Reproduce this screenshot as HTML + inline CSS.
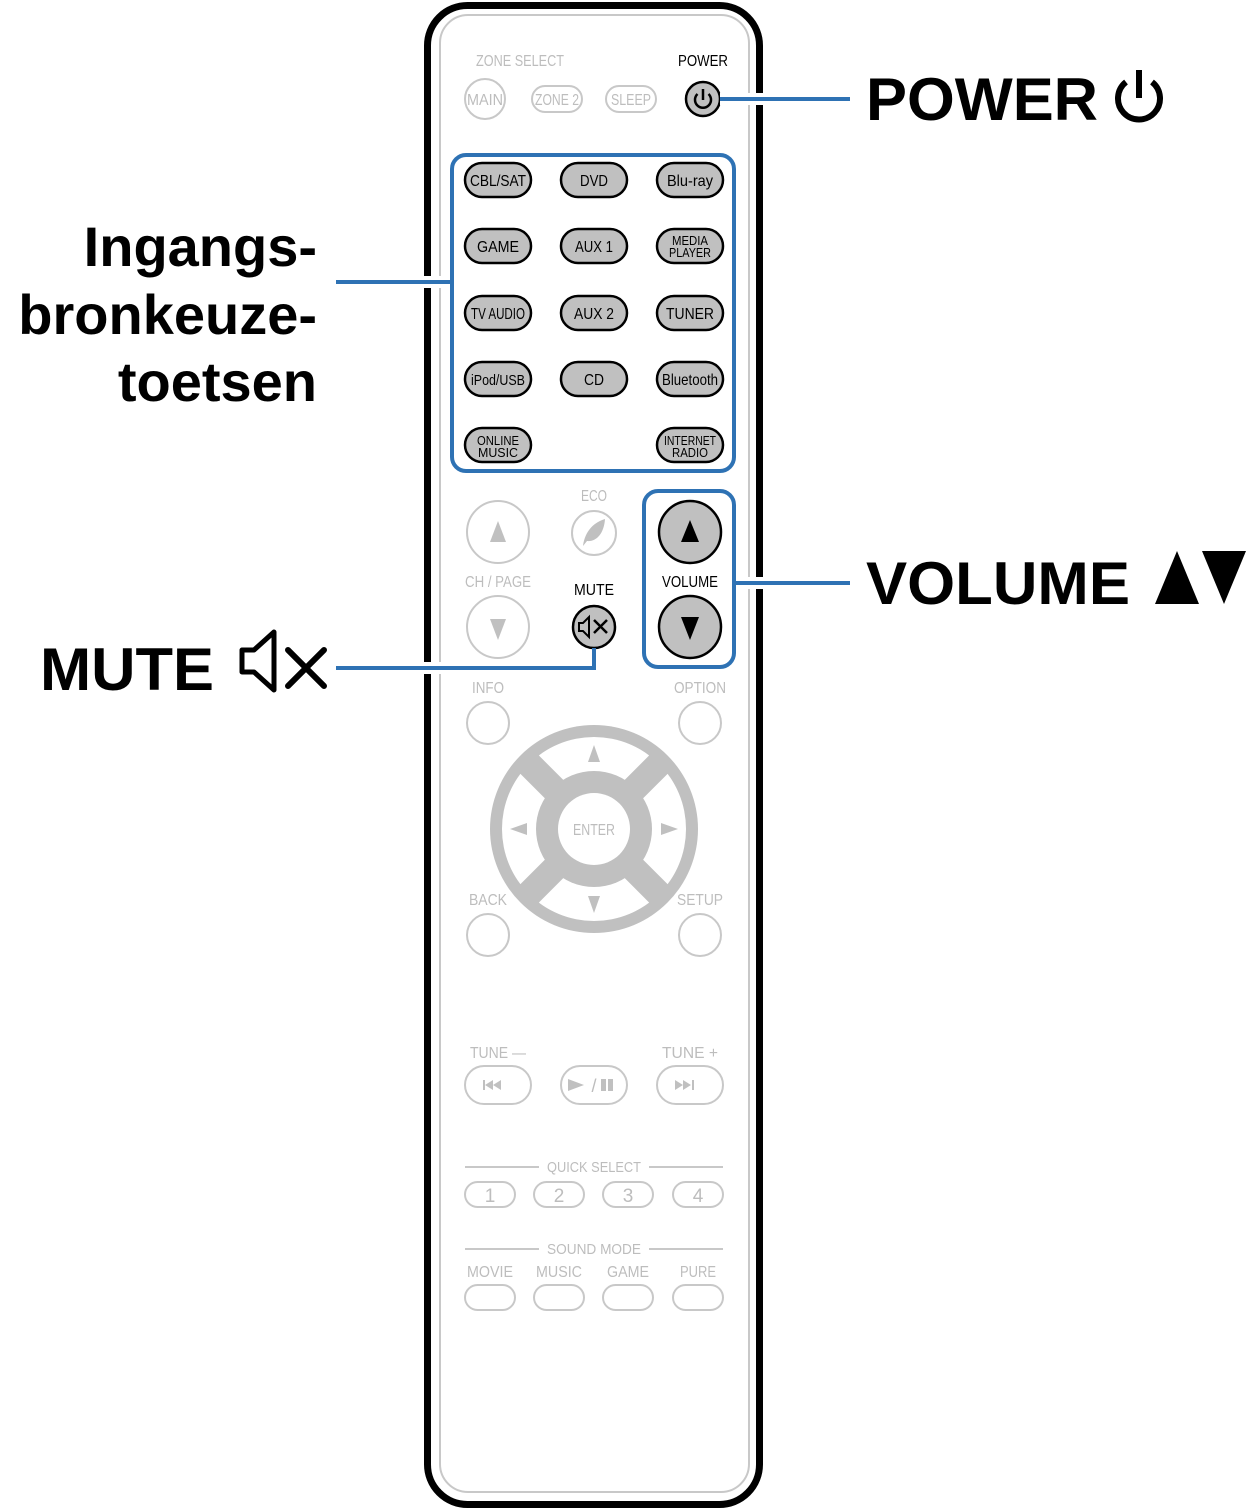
<!DOCTYPE html>
<html><head><meta charset="utf-8"><style>
html,body{margin:0;padding:0;background:#fff;}
svg{display:block;}
.g{font-family:"Liberation Sans",sans-serif;fill:#bdbdbd;text-anchor:middle;}
.b{font-family:"Liberation Sans",sans-serif;fill:#000;text-anchor:middle;}
.big{font-family:"Liberation Sans",sans-serif;font-weight:bold;fill:#000;}
</style></head><body>
<svg width="1248" height="1510" viewBox="0 0 1248 1510" xmlns="http://www.w3.org/2000/svg">
<rect x="427.5" y="5.5" width="332" height="1499" rx="40" fill="#fff" stroke="#000" stroke-width="7"/>
<rect x="440" y="15" width="309" height="1477" rx="28" fill="none" stroke="#c8c8c8" stroke-width="2"/>

<text class="g" x="520" y="66" font-size="16" textLength="88" lengthAdjust="spacingAndGlyphs">ZONE SELECT</text>
<text class="b" x="703" y="66" font-size="16" textLength="50" lengthAdjust="spacingAndGlyphs">POWER</text>
<circle cx="485" cy="99" r="20" fill="none" stroke="#c8c8c8" stroke-width="2"/>
<text class="g" x="485" y="105" font-size="16" textLength="36" lengthAdjust="spacingAndGlyphs">MAIN</text>
<rect x="532" y="86" width="50" height="26" rx="13" fill="none" stroke="#c8c8c8" stroke-width="2"/>
<text class="g" x="557" y="105" font-size="16" textLength="44" lengthAdjust="spacingAndGlyphs">ZONE 2</text>
<rect x="606" y="86" width="50" height="26" rx="13" fill="none" stroke="#c8c8c8" stroke-width="2"/>
<text class="g" x="631" y="105" font-size="16" textLength="40" lengthAdjust="spacingAndGlyphs">SLEEP</text>
<circle cx="703" cy="99" r="17" fill="#c0c0c0" stroke="#000" stroke-width="2.5"/>
<path d="M697.5 94 A8 8 0 1 0 708.5 94" fill="none" stroke="#000" stroke-width="2.5"/>
<line x1="703" y1="89" x2="703" y2="100" stroke="#000" stroke-width="2.5"/>

<g font-size="16">
<g fill="#c0c0c0" stroke="#000" stroke-width="2.5">
<rect x="465" y="163" width="66" height="34" rx="17"/><rect x="561" y="163" width="66" height="34" rx="17"/><rect x="657" y="163" width="66" height="34" rx="17"/>
<rect x="465" y="229" width="66" height="34" rx="17"/><rect x="561" y="229" width="66" height="34" rx="17"/><rect x="657" y="229" width="66" height="34" rx="17"/>
<rect x="465" y="296" width="66" height="34" rx="17"/><rect x="561" y="296" width="66" height="34" rx="17"/><rect x="657" y="296" width="66" height="34" rx="17"/>
<rect x="465" y="362" width="66" height="34" rx="17"/><rect x="561" y="362" width="66" height="34" rx="17"/><rect x="657" y="362" width="66" height="34" rx="17"/>
<rect x="465" y="428" width="66" height="34" rx="17"/><rect x="657" y="428" width="66" height="34" rx="17"/>
</g>
<text class="b" x="498" y="186" textLength="56" lengthAdjust="spacingAndGlyphs">CBL/SAT</text><text class="b" x="594" y="186" textLength="28" lengthAdjust="spacingAndGlyphs">DVD</text><text class="b" x="690" y="186" textLength="46" lengthAdjust="spacingAndGlyphs">Blu-ray</text>
<text class="b" x="498" y="252" textLength="42" lengthAdjust="spacingAndGlyphs">GAME</text><text class="b" x="594" y="252" textLength="38" lengthAdjust="spacingAndGlyphs">AUX 1</text>
<text class="b" x="690" y="245" font-size="13" textLength="36" lengthAdjust="spacingAndGlyphs">MEDIA</text><text class="b" x="690" y="257" font-size="13" textLength="42" lengthAdjust="spacingAndGlyphs">PLAYER</text>
<text class="b" x="498" y="319" textLength="54" lengthAdjust="spacingAndGlyphs">TV AUDIO</text><text class="b" x="594" y="319" textLength="40" lengthAdjust="spacingAndGlyphs">AUX 2</text><text class="b" x="690" y="319" textLength="48" lengthAdjust="spacingAndGlyphs">TUNER</text>
<text class="b" x="498" y="385" font-size="15" textLength="54" lengthAdjust="spacingAndGlyphs">iPod/USB</text><text class="b" x="594" y="385" textLength="20" lengthAdjust="spacingAndGlyphs">CD</text><text class="b" x="690" y="385" textLength="56" lengthAdjust="spacingAndGlyphs">Bluetooth</text>
<text class="b" x="498" y="445" font-size="13" textLength="42" lengthAdjust="spacingAndGlyphs">ONLINE</text><text class="b" x="498" y="457" font-size="13" textLength="40" lengthAdjust="spacingAndGlyphs">MUSIC</text>
<text class="b" x="690" y="445" font-size="13" textLength="52" lengthAdjust="spacingAndGlyphs">INTERNET</text><text class="b" x="690" y="457" font-size="13" textLength="36" lengthAdjust="spacingAndGlyphs">RADIO</text>
</g>

<circle cx="498" cy="532" r="31" fill="none" stroke="#c8c8c8" stroke-width="2"/>
<path d="M498 521 L506 542 L490 542Z" fill="#c0c0c0"/>
<text class="g" x="498" y="587" font-size="16" textLength="66" lengthAdjust="spacingAndGlyphs">CH / PAGE</text>
<circle cx="498" cy="627" r="31" fill="none" stroke="#c8c8c8" stroke-width="2"/>
<path d="M498 640 L506 619 L490 619Z" fill="#c0c0c0"/>
<text class="g" x="594" y="501" font-size="16" textLength="26" lengthAdjust="spacingAndGlyphs">ECO</text>
<circle cx="594" cy="533" r="22" fill="none" stroke="#c8c8c8" stroke-width="2"/>
<path d="M583 546 C585 530 595 522 605 519 C604 534 596 542 587 541Z" fill="#c0c0c0"/>
<text class="b" x="594" y="595" font-size="16" textLength="40" lengthAdjust="spacingAndGlyphs">MUTE</text>
<circle cx="594" cy="627" r="21" fill="#c0c0c0" stroke="#000" stroke-width="2.5"/>
<path d="M579 623 h4 l6 -6 v20 l-6 -6 h-4z" fill="none" stroke="#000" stroke-width="2"/>
<path d="M594 620 l13 13 M607 620 l-13 13" stroke="#000" stroke-width="2.5"/>

<circle cx="690" cy="532" r="31" fill="#c0c0c0" stroke="#000" stroke-width="2.5"/>
<path d="M690 520 L699 542 L681 542Z" fill="#000"/>
<text class="b" x="690" y="587" font-size="16" textLength="56" lengthAdjust="spacingAndGlyphs">VOLUME</text>
<circle cx="690" cy="627" r="31" fill="#c0c0c0" stroke="#000" stroke-width="2.5"/>
<path d="M690 640 L699 617 L681 617Z" fill="#000"/>

<text class="g" x="488" y="693" font-size="16" textLength="32" lengthAdjust="spacingAndGlyphs">INFO</text>
<circle cx="488" cy="723" r="21" fill="none" stroke="#c8c8c8" stroke-width="2"/>
<text class="g" x="700" y="693" font-size="16" textLength="52" lengthAdjust="spacingAndGlyphs">OPTION</text>
<circle cx="700" cy="723" r="21" fill="none" stroke="#c8c8c8" stroke-width="2"/>

<circle cx="594" cy="829" r="104" fill="#c0c0c0"/>
<circle cx="594" cy="829" r="92" fill="#fff"/>
<g stroke="#c0c0c0" stroke-width="26">
<line x1="528" y1="763" x2="660" y2="895"/><line x1="660" y1="763" x2="528" y2="895"/>
</g>
<circle cx="594" cy="829" r="58" fill="#c0c0c0"/>
<circle cx="594" cy="829" r="36" fill="#fff"/>
<text class="g" x="594" y="835" font-size="16" textLength="42" lengthAdjust="spacingAndGlyphs">ENTER</text>
<g fill="#c0c0c0">
<path d="M594 745 L600 762 L588 762Z"/><path d="M594 913 L600 896 L588 896Z"/>
<path d="M510 829 L527 823 L527 835Z"/><path d="M678 829 L661 823 L661 835Z"/>
</g>
<text class="g" x="488" y="905" font-size="16" textLength="38" lengthAdjust="spacingAndGlyphs">BACK</text>
<circle cx="488" cy="935" r="21" fill="none" stroke="#c8c8c8" stroke-width="2"/>
<text class="g" x="700" y="905" font-size="16" textLength="46" lengthAdjust="spacingAndGlyphs">SETUP</text>
<circle cx="700" cy="935" r="21" fill="none" stroke="#c8c8c8" stroke-width="2"/>

<text class="g" x="498" y="1058" font-size="16" textLength="56" lengthAdjust="spacingAndGlyphs">TUNE —</text>
<text class="g" x="690" y="1058" font-size="16" textLength="56" lengthAdjust="spacingAndGlyphs">TUNE +</text>
<g fill="none" stroke="#c8c8c8" stroke-width="2">
<rect x="465" y="1066" width="66" height="38" rx="19"/><rect x="561" y="1066" width="66" height="38" rx="19"/><rect x="657" y="1066" width="66" height="38" rx="19"/>
</g>
<g fill="#c0c0c0">
<rect x="483" y="1080" width="2" height="10"/><path d="M485 1085 l8 -5 v10z M493 1085 l8 -5 v10z"/>
<path d="M568 1079 l16 6 l-16 6z"/><text class="g" x="594" y="1092" font-size="18">/</text><rect x="601" y="1079" width="5" height="12"/><rect x="608" y="1079" width="5" height="12"/>
<path d="M675 1080 l8 5 l-8 5z M683 1080 l8 5 l-8 5z"/><rect x="692" y="1080" width="2" height="10"/>
</g>

<g stroke="#c8c8c8" stroke-width="2">
<line x1="465" y1="1167" x2="539" y2="1167"/><line x1="649" y1="1167" x2="723" y2="1167"/>
<line x1="465" y1="1249" x2="539" y2="1249"/><line x1="649" y1="1249" x2="723" y2="1249"/>
</g>
<text class="g" x="594" y="1172" font-size="15" textLength="94" lengthAdjust="spacingAndGlyphs">QUICK SELECT</text>
<g fill="none" stroke="#c8c8c8" stroke-width="2">
<rect x="465" y="1182" width="50" height="25" rx="12.5"/><rect x="534" y="1182" width="50" height="25" rx="12.5"/><rect x="603" y="1182" width="50" height="25" rx="12.5"/><rect x="673" y="1182" width="50" height="25" rx="12.5"/>
<rect x="465" y="1285" width="50" height="25" rx="12.5"/><rect x="534" y="1285" width="50" height="25" rx="12.5"/><rect x="603" y="1285" width="50" height="25" rx="12.5"/><rect x="673" y="1285" width="50" height="25" rx="12.5"/>
</g>
<g font-size="19"><text class="g" x="490" y="1202">1</text><text class="g" x="559" y="1202">2</text><text class="g" x="628" y="1202">3</text><text class="g" x="698" y="1202">4</text></g>
<text class="g" x="594" y="1254" font-size="15" textLength="94" lengthAdjust="spacingAndGlyphs">SOUND MODE</text>
<g font-size="16"><text class="g" x="490" y="1277" textLength="46" lengthAdjust="spacingAndGlyphs">MOVIE</text><text class="g" x="559" y="1277" textLength="46" lengthAdjust="spacingAndGlyphs">MUSIC</text><text class="g" x="628" y="1277" textLength="42" lengthAdjust="spacingAndGlyphs">GAME</text><text class="g" x="698" y="1277" textLength="36" lengthAdjust="spacingAndGlyphs">PURE</text></g>

<rect x="452" y="155" width="282" height="316" rx="14" fill="none" stroke="#2e72b4" stroke-width="4"/>
<rect x="644" y="491" width="90" height="176" rx="14" fill="none" stroke="#2e72b4" stroke-width="4"/>

<g stroke="#fff" stroke-width="12" fill="none">
<line x1="720" y1="99" x2="775" y2="99"/>
<line x1="410" y1="282" x2="450" y2="282"/>
<line x1="736" y1="583" x2="775" y2="583"/>
<line x1="410" y1="668" x2="445" y2="668"/>
</g>
<g stroke="#2e72b4" stroke-width="4" fill="none">
<line x1="720" y1="99" x2="850" y2="99"/>
<line x1="336" y1="282" x2="452" y2="282"/>
<line x1="734" y1="583" x2="850" y2="583"/>
<polyline points="594,648 594,668 336,668"/>
</g>

<text class="big" x="866" y="120" font-size="60" textLength="232" lengthAdjust="spacingAndGlyphs">POWER</text>
<path d="M1126 82 A21 21 0 1 0 1152 82" fill="none" stroke="#000" stroke-width="6"/>
<line x1="1139" y1="70" x2="1139" y2="98" stroke="#000" stroke-width="6"/>
<text class="big" x="866" y="604" font-size="60" textLength="264" lengthAdjust="spacingAndGlyphs">VOLUME</text>
<path d="M1177 551 L1199 604 L1155 604Z" fill="#000"/>
<path d="M1224 604 L1246 551 L1202 551Z" fill="#000"/>
<text class="big" x="40" y="690" font-size="60" textLength="174" lengthAdjust="spacingAndGlyphs">MUTE</text>
<path d="M242 650 h12 l20 -18 v58 l-20 -18 h-12z" fill="none" stroke="#000" stroke-width="5" stroke-linejoin="round"/>
<path d="M288 650 l36 36 M324 650 l-36 36" stroke="#000" stroke-width="6" stroke-linecap="round"/>
<g text-anchor="end" font-size="56">
<text class="big" x="317" y="266">Ingangs-</text>
<text class="big" x="317" y="334">bronkeuze-</text>
<text class="big" x="317" y="401">toetsen</text>
</g>
</svg>
</body></html>
